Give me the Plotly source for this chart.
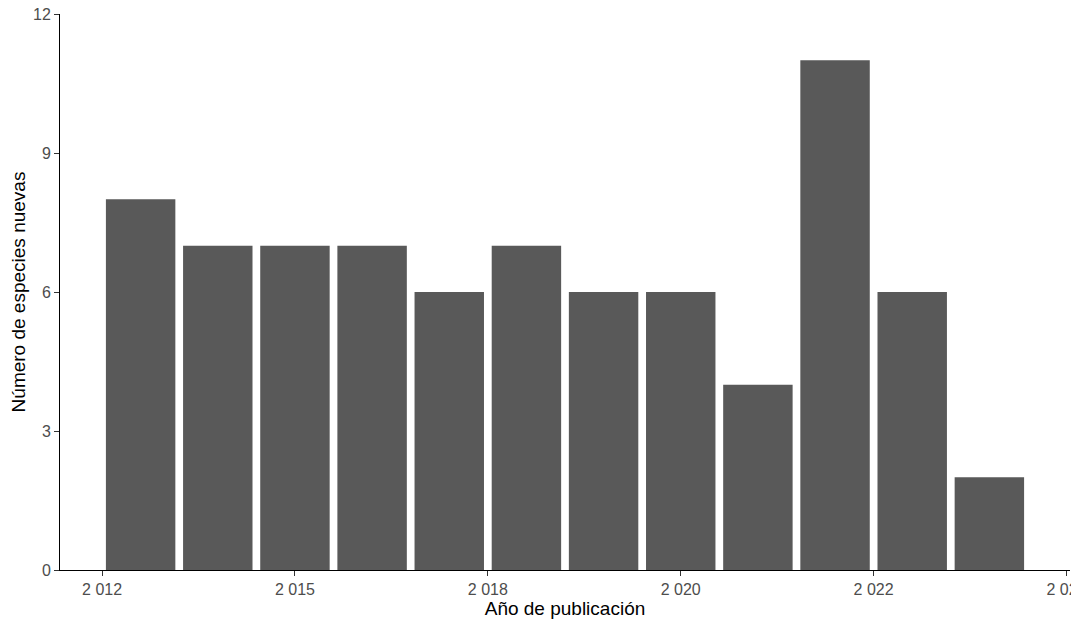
import plotly.graph_objects as go

# especies nuevas por año de publicación
anios = [2013, 2014, 2015, 2016, 2017, 2018, 2019, 2020, 2021, 2022, 2023, 2024]
especies = [8, 7, 7, 7, 6, 7, 6, 6, 4, 11, 6, 2]

x_ticks = [2012.5, 2015, 2017.5, 2020, 2022.5, 2025]
x_labels = ["2 012", "2 015", "2 018", "2 020", "2 022", "2 025"]
y_ticks = [0, 3, 6, 9, 12]

fig = go.Figure()
fig.add_trace(go.Bar(x=anios, y=especies, width=0.9,
                     marker=dict(color="#595959", line=dict(width=0)),
                     hovertemplate="%{x}: %{y}<extra></extra>"))

# the page body has an 8px margin, so the figure is a bit smaller than the window
fig.update_layout(
    width=1071, height=619,
    margin={"l": 52, "r": 9, "t": 6, "b": 57, "autoexpand": False},
    plot_bgcolor="white", paper_bgcolor="white",
    font=dict(family="Liberation Sans, Arial, sans-serif"),
    showlegend=False,
)
fig.update_xaxes(range=[2011.955, 2025.045], tickmode="array",
                 tickvals=x_ticks, ticktext=x_labels, automargin=False,
                 ticklabeloverflow="allow",
                 showline=True, linecolor="black", linewidth=1,
                 ticks="outside", ticklen=5, tickcolor="#333333",
                 tickfont=dict(size=16, color="#4d4d4d"),
                 showgrid=False, zeroline=False,
                 title=dict(text="Año de publicación", font=dict(size=19, color="black"), standoff=4))
fig.update_yaxes(range=[0, 12], tickmode="array", tickvals=y_ticks, automargin=False,
                 ticklabeloverflow="allow",
                 showline=True, linecolor="black", linewidth=1,
                 ticks="outside", ticklen=5, tickcolor="#333333",
                 tickfont=dict(size=16, color="#4d4d4d"),
                 showgrid=False, zeroline=False,
                 title=dict(text="Número de especies nuevas", font=dict(size=19, color="black"), standoff=8))

fig.write_html("out.html")
